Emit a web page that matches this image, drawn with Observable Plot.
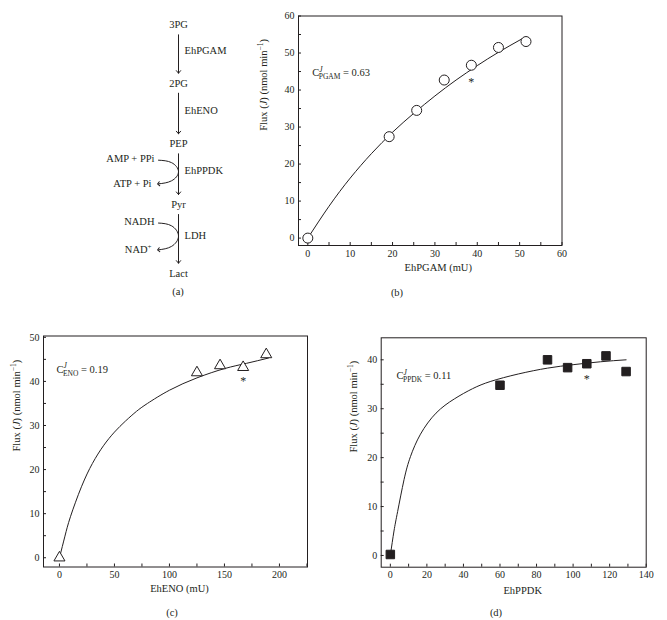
<!DOCTYPE html>
<html><head><meta charset="utf-8">
<script src="https://cdn.jsdelivr.net/npm/d3@7"></script>
<script src="https://cdn.jsdelivr.net/npm/@observablehq/plot@0.6"></script>
<style>
body{margin:0;background:#fff;}
#fig{position:relative;width:667px;height:620px;background:#fff;font-family:"Liberation Serif",serif;color:#231f20;overflow:hidden;}
.panel{position:absolute;}
.cap{position:absolute;font-size:10.5px;transform:translate(-50%,-50%);white-space:nowrap;}
</style></head><body><div id="fig"></div>
<script>
// ---------- data ----------
// (a) pathway
const pathway = ["3PG", "2PG", "PEP", "Pyr", "Lact"];
const enzymes = ["EhPGAM", "EhENO", "EhPPDK", "LDH"];
const cofactorIn = ["AMP + PPi", "NADH"];
const cofactorOut = ["ATP + Pi", "NAD+"];
const cofactorStep = [2, 3];

// (b) EhPGAM
const pgamX = [0, 19.2, 25.7, 32.2, 38.6, 45.0, 51.5];
const pgamY = [0, 27.4, 34.5, 42.7, 46.7, 51.5, 53.1];
const pgamFitX = [0, 5, 10, 15, 20, 25, 30, 35, 40, 45, 50.5];
const pgamFitY = [0, 8.6, 16.2, 22.8, 28.6, 33.7, 38.4, 42.7, 46.6, 50.2, 53.8];

// (c) EhENO
const enoX = [0, 125, 146, 167, 188];
const enoY = [0, 42.0, 43.6, 43.2, 46.1];
const enoFitX = [0, 5, 10, 20, 30, 40, 50, 60, 70, 80, 100, 125, 150, 170, 190];
const enoFitY = [0, 4.9, 9.3, 16.1, 21.4, 25.4, 28.5, 31.0, 33.2, 35.0, 38.0, 40.8, 42.9, 44.1, 45.3];

// (d) EhPPDK
const ppdkX = [0, 60, 86, 97, 107.5, 118, 129];
const ppdkY = [0.2, 34.8, 40.0, 38.4, 39.2, 40.8, 37.6];
const ppdkFitX = [0, 2, 4, 7.5, 11, 16.5, 25, 35, 45, 55, 70, 86, 100, 115, 129];
const ppdkFitY = [0, 5, 9, 15.5, 20.2, 24.8, 29.1, 32.0, 34.1, 35.6, 37.1, 38.3, 39.0, 39.6, 40.0];

// control coefficients
const coefEnzyme = ["PGAM", "ENO", "PPDK"];
const coefValue = ["0.63", "0.19", "0.11"];
const starIndex = [4, 3, 4];

const xLabels = ["EhPGAM (mU)", "EhENO (mU)", "EhPPDK"];
const yLabel = "Flux (J) (nmol min−1)";
const panelLetters = ["(a)", "(b)", "(c)", "(d)"];

// ---------- rendering ----------
const INK = "#231f20";
const FONT = "Liberation Serif";
const fig = document.getElementById("fig");

function place(node, left, top) {
  const d = document.createElement("div");
  d.className = "panel";
  d.style.left = left + "px";
  d.style.top = top + "px";
  d.appendChild(node);
  fig.appendChild(d);
  return node;
}
function caption(text, cx, cy) {
  const d = document.createElement("div");
  d.className = "cap";
  d.style.left = cx + "px";
  d.style.top = cy + "px";
  d.textContent = text;
  fig.appendChild(d);
}

// rich text helpers (super/subscripts)
function richify(svg) {
  d3.select(svg).selectAll("text").each(function () {
    const s = this.textContent;
    const t = d3.select(this);
    if (s.startsWith("C_")) {
      const m = s.slice(2).split(" = ");
      t.text("");
      t.append("tspan").text("C");
      const j = t.append("tspan").attr("font-style", "italic").attr("font-size", "7.5px").attr("dy", -4.5).text("J");
      const w = j.node().getComputedTextLength();
      t.append("tspan").attr("font-size", "7.5px").attr("dx", -w - 0.5).attr("dy", 7.5).text(m[0]);
      t.append("tspan").attr("dy", -3).text(" = " + m[1]);
    } else if (s.startsWith("Flux")) {
      t.text("");
      t.append("tspan").text("Flux (");
      t.append("tspan").attr("font-style", "italic").text("J");
      t.append("tspan").text(") (nmol min");
      t.append("tspan").attr("font-size", "7.5px").attr("dy", -4).text("−1");
      t.append("tspan").attr("dy", 4).text(")");
    } else if (s === "NAD+") {
      t.text("");
      t.append("tspan").text("NAD");
      t.append("tspan").attr("font-size", "7px").attr("dy", -4).text("+");
    }
  });
}

// ---- (a) pathway diagram ----
{
  const nodes = pathway.map((name, i) => ({name, step: i}));
  const steps = enzymes.map((name, i) => ({name, step: i}));
  const cof = cofactorIn.map((a, i) => ({a, b: cofactorOut[i], step: cofactorStep[i]}));
  const arc = cof.flatMap((c, k) => [
    {k, x: -1, y: c.step + 0.27},
    {k, x: -0.35, y: c.step + 0.31},
    {k, x: 0, y: c.step + 0.46},
    {k, x: -0.35, y: c.step + 0.61},
    {k, x: -1, y: c.step + 0.66}
  ]);
  const svg = Plot.plot({
    width: 260, height: 300, margin: 0,
    style: {fontFamily: FONT, fontSize: "10.5px", color: INK, background: "transparent", overflow: "visible"},
    x: {type: "linear", domain: [-1, 0], range: [158, 178], axis: null},
    y: {type: "linear", domain: [0, 1, 2, 3, 4], range: [24.3, 82.7, 143.3, 204, 272.7], axis: null},
    marks: [
      Plot.text(nodes, {x: () => 0, y: "step", text: "name"}),
      Plot.arrow(steps, {x1: () => 0, x2: () => 0, y1: "step", y2: d => d.step + 1,
        insetStart: 10, insetEnd: 10, headLength: 5, headAngle: 80, stroke: INK, strokeWidth: 1}),
      Plot.text(steps, {x: () => 0, y: d => d.step + 0.45, text: "name", textAnchor: "start", dx: 6}),
      Plot.text(cof, {x: () => -1, y: d => d.step + 0.25, text: "a", textAnchor: "end", dx: -4}),
      Plot.text(cof, {x: () => -1, y: d => d.step + 0.66, text: "b", textAnchor: "end", dx: -7}),
      Plot.line(arc, {x: "x", y: "y", z: "k", curve: "natural", stroke: INK, strokeWidth: 1, markerEnd: "arrow"})
    ]
  });
  place(svg, 0, 0);
  richify(svg);
}

// ---- scatter panels ----
function scatterPanel(o) {
  const pts = o.xs.map((x, i) => ({x, y: o.ys[i]}));
  const fit = o.fitX.map((x, i) => ({x, y: o.fitY[i]}));
  const star = [pts[o.star]];
  const svg = Plot.plot({
    width: o.width, height: o.height,
    marginLeft: o.ml, marginRight: o.mr, marginTop: o.mt, marginBottom: o.mb,
    style: {fontFamily: FONT, fontSize: "10px", color: INK, background: "transparent", overflow: "visible"},
    x: {domain: o.xDomain},
    y: {domain: o.yDomain},
    marks: [
      Plot.frame({stroke: INK, strokeWidth: 1}),
      Plot.axisX({ticks: o.xTicks, tickSize: -3, tickPadding: 7, label: null,
        tickFormat: d => (Math.abs(d % o.xEvery) < 1e-9 ? String(d) : "")}),
      Plot.axisY({ticks: o.yTicks, tickSize: -3, tickPadding: 7, label: null,
        tickFormat: d => (Math.abs(d % o.yEvery) < 1e-9 ? String(d) : "")}),
      Plot.line(fit, {x: "x", y: "y", curve: "natural", stroke: INK, strokeWidth: 1}),
      Plot.dot(pts, {x: "x", y: "y", symbol: o.symbol, r: o.r, stroke: INK, strokeWidth: 1, fill: o.fill}),
      Plot.text(star, {x: "x", y: "y", text: () => "*", dy: o.starDy, fontSize: 12}),
      Plot.text([o.coef], {frameAnchor: "top-left", dx: o.annDx, dy: o.annDy, textAnchor: "start",
        fontSize: 10.5, text: d => "C_" + d.enzyme + " = " + d.value}),
      Plot.text([o.xLabel], {frameAnchor: "bottom", dx: o.xLabDx, dy: o.xLabDy, fontSize: 10.5, text: d => d}),
      Plot.text([yLabel], {frameAnchor: "left", dx: o.yLabDx, rotate: -90, fontSize: 10.5, text: d => d})
    ]
  });
  place(svg, o.left, o.top);
  richify(svg);
  return svg;
}

// (b)
scatterPanel({
  left: 250, top: 0, width: 330, height: 280, ml: 48, mr: 18.5, mt: 15.5, mb: 35,
  xs: pgamX, ys: pgamY, fitX: pgamFitX, fitY: pgamFitY, star: starIndex[0],
  xDomain: [-2.2, 60], yDomain: [-2, 60],
  xTicks: d3.range(0, 61, 5), xEvery: 10, yTicks: d3.range(0, 61, 5), yEvery: 10,
  symbol: "circle", r: 5, fill: "white", starDy: 17,
  coef: {enzyme: coefEnzyme[0], value: coefValue[0]}, annDx: 13.7, annDy: 53,
  xLabel: xLabels[0], xLabDx: 8, xLabDy: 25, yLabDx: -34.7
});
// (c)
scatterPanel({
  left: 0, top: 320, width: 330, height: 270, ml: 43, mr: 23, mt: 15.5, mb: 23.5,
  xs: enoX, ys: enoY, fitX: enoFitX, fitY: enoFitY, star: starIndex[1],
  xDomain: [-14.5, 225.5], yDomain: [-2.1, 50.3],
  xTicks: d3.range(0, 226, 25), xEvery: 50, yTicks: d3.range(0, 51, 5), yEvery: 10,
  symbol: "triangle", r: 4.1, fill: "white", starDy: 14,
  coef: {enzyme: coefEnzyme[1], value: coefValue[1]}, annDx: 13, annDy: 29.5,
  xLabel: xLabels[1], xLabDx: 4, xLabDy: 25.2, yLabDx: -27
});
// (d)
scatterPanel({
  left: 330, top: 320, width: 337, height: 270, ml: 50.7, mr: 21.3, mt: 17.3, mb: 23.3,
  xs: ppdkX, ys: ppdkY, fitX: ppdkFitX, fitY: ppdkFitY, star: starIndex[2],
  xDomain: [-5, 140], yDomain: [-2.4, 44.5],
  xTicks: d3.range(0, 141, 10), xEvery: 20, yTicks: d3.range(0, 45, 5), yEvery: 10,
  symbol: "square", r: 4.8, fill: INK, starDy: 15,
  coef: {enzyme: coefEnzyme[2], value: coefValue[2]}, annDx: 15.3, annDy: 34,
  xLabel: xLabels[2], xLabDx: 9, xLabDy: 26.6, yLabDx: -28
});

caption(panelLetters[0], 178, 291);
caption(panelLetters[1], 397, 292);
caption(panelLetters[2], 172, 612);
caption(panelLetters[3], 496, 612);
</script></body></html>
